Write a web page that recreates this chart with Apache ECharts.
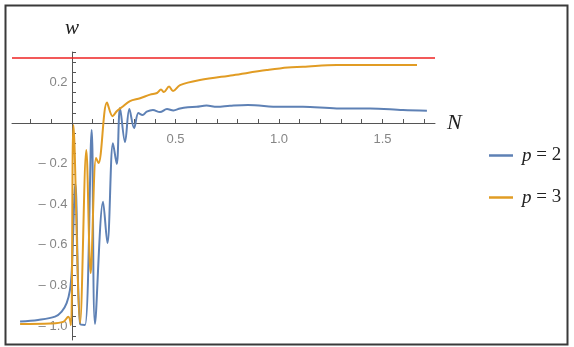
<!DOCTYPE html>
<html lang="en">
<head>
  <meta charset="UTF-8">
  <title>w(N)</title>
  <script src="https://cdn.jsdelivr.net/npm/echarts@6/dist/echarts.min.js"></script>
  <style>
    html, body { margin: 0; padding: 0; background: #fff; }
  </style>
</head>
<body>
<div id="main" style="width: 574px;height:347px;"></div>
<script>
  var myChart = echarts.init(document.getElementById('main'));

  // p = 2 (blue)
  var blueN = [-0.251, -0.164, -0.082, -0.050, -0.026, -0.010, -0.001, 0.016, 0.039, 0.063, 0.095, 0.111,
    0.150, 0.171, 0.198, 0.216, 0.232, 0.256, 0.277, 0.300, 0.321, 0.341, 0.361, 0.391, 0.425, 0.459,
    0.490, 0.522, 0.560, 0.602, 0.650, 0.700, 0.763, 0.850, 1.005, 1.116, 1.279, 1.440, 1.599, 1.715];
  var blueW = [-0.978, -0.970, -0.954, -0.929, -0.887, -0.823, -0.724, -0.300, -0.990, -0.995, -0.034, -0.990,
    -0.388, -0.591, -0.099, -0.202, 0.074, -0.094, 0.069, -0.025, 0.049, 0.040, 0.056, 0.064, 0.054, 0.069,
    0.062, 0.072, 0.078, 0.080, 0.086, 0.080, 0.085, 0.089, 0.080, 0.080, 0.072, 0.072, 0.064, 0.061];

  // p = 3 (orange)
  var orangeN = [-0.251, -0.106, -0.043, -0.018, -0.005, 0.007, 0.039, 0.069, 0.090, 0.116, 0.128, 0.169,
    0.196, 0.217, 0.242, 0.280, 0.329, 0.377, 0.411, 0.430, 0.444, 0.469, 0.488, 0.522, 0.618, 0.778,
    0.941, 1.043, 1.116, 1.279, 1.440, 1.667];
  var orangeW = [-0.990, -0.988, -0.980, -0.954, -0.995, -0.010, -0.985, -0.133, -0.739, -0.172, -0.197, 0.101,
    0.034, 0.059, 0.079, 0.108, 0.122, 0.140, 0.148, 0.165, 0.153, 0.180, 0.158, 0.187, 0.212, 0.236,
    0.261, 0.274, 0.277, 0.286, 0.286, 0.286];

  var redW = 0.322;

  var xTicks = [-0.2, -0.1, 0.1, 0.2, 0.3, 0.4, 0.5, 0.6, 0.7, 0.8, 0.9, 1.0, 1.1, 1.2, 1.3, 1.4, 1.5, 1.6, 1.7];
  var xLabels = [0.5, 1.0, 1.5];
  var yTicks = [-1.05, -1.0, -0.95, -0.9, -0.85, -0.8, -0.75, -0.7, -0.65, -0.6, -0.55, -0.5, -0.45, -0.4,
    -0.35, -0.3, -0.25, -0.2, -0.15, -0.1, -0.05, 0.05, 0.1, 0.15, 0.2, 0.25, 0.3, 0.35];
  var yLabels = [-1.0, -0.8, -0.6, -0.4, -0.2, 0.2];

  function zip(a, b) {
    return a.map(function (v, i) { return [v, b[i]]; });
  }

  var axisColor = '#555';
  var labelColor = '#666';
  var tickFont = { fontFamily: 'Liberation Sans', fontSize: 13, color: labelColor };

  // tick labels sit on the axes that cross at the origin
  function tickLabelSeries(points, pos, dist, fmt) {
    return {
      type: 'scatter', silent: true, symbolSize: 1, z: 1,
      itemStyle: { color: 'rgba(0,0,0,0)' },
      label: Object.assign({ show: true, position: pos, distance: dist,
        formatter: function (p) { return fmt(p.value); } }, tickFont),
      data: points
    };
  }

  option = {
    animation: false,
    grid: { left: 12, right: 139, top: 52, bottom: 7, containLabel: false, outerBoundsMode: 'none' },
    legend: {
      data: ['p = 2', 'p = 3'],
      orient: 'vertical',
      left: 484,
      top: 141,
      icon: 'rect',
      itemWidth: 24,
      itemHeight: 2.5,
      itemGap: 23,
      formatter: function (name) { return '{i|p}' + name.slice(1); },
      textStyle: {
        fontFamily: 'Liberation Serif', fontSize: 19, color: '#222', padding: [0, 0, 0, 4],
        rich: { i: { fontFamily: 'Liberation Serif', fontStyle: 'italic', fontSize: 19, color: '#222' } }
      }
    },
    xAxis: {
      type: 'value', min: -0.29, max: 1.754,
      name: 'N', nameLocation: 'end', nameGap: 12,
      nameTextStyle: { fontFamily: 'Liberation Serif', fontStyle: 'italic', fontSize: 22, color: '#222' },
      axisLine: { onZero: true, lineStyle: { color: axisColor, width: 1 } },
      axisTick: { show: true, inside: true, length: 4, customValues: xTicks, lineStyle: { color: axisColor } },
      axisLabel: { show: false },
      splitLine: { show: false }
    },
    yAxis: {
      type: 'value', min: -1.069, max: 0.35,
      name: 'w', nameLocation: 'end', nameGap: 13,
      nameTextStyle: { fontFamily: 'Liberation Serif', fontStyle: 'italic', fontSize: 21, color: '#222' },
      axisLine: { onZero: true, lineStyle: { color: axisColor, width: 1 } },
      axisTick: { show: true, inside: true, length: 4, customValues: yTicks, lineStyle: { color: axisColor } },
      axisLabel: { show: false },
      splitLine: { show: false }
    },
    graphic: [{
      type: 'rect', silent: true,
      shape: { x: 5.5, y: 5.5, width: 562, height: 339 },
      style: { fill: 'none', stroke: '#3a3a3a', lineWidth: 2 }
    }],
    series: [{
      name: 'w = 1/3',
      type: 'line',
      data: [],
      markLine: {
        silent: true, symbol: 'none', label: { show: false },
        lineStyle: { color: '#ee2222', width: 1.5, type: 'solid' },
        data: [{ yAxis: redW }]
      }
    }, {
      name: 'p = 2',
      type: 'line',
      smooth: 0.35,
      showSymbol: false,
      color: '#5e81b5',
      lineStyle: { width: 2, color: '#5e81b5' },
      data: zip(blueN, blueW)
    }, {
      name: 'p = 3',
      type: 'line',
      smooth: 0.35,
      showSymbol: false,
      color: '#e19c24',
      lineStyle: { width: 2, color: '#e19c24' },
      data: zip(orangeN, orangeW)
    },
    tickLabelSeries(xLabels.map(function (v) { return [v, 0]; }), 'bottom', 9,
      function (d) { return d[0].toFixed(1); }),
    tickLabelSeries(yLabels.map(function (v) { return [0, v]; }), 'left', 4,
      function (d) { return d[1] < 0 ? '\u2013 ' + (-d[1]).toFixed(1) : d[1].toFixed(1); })
    ]
  };

  myChart.setOption(option);
</script>
</body>
</html>
